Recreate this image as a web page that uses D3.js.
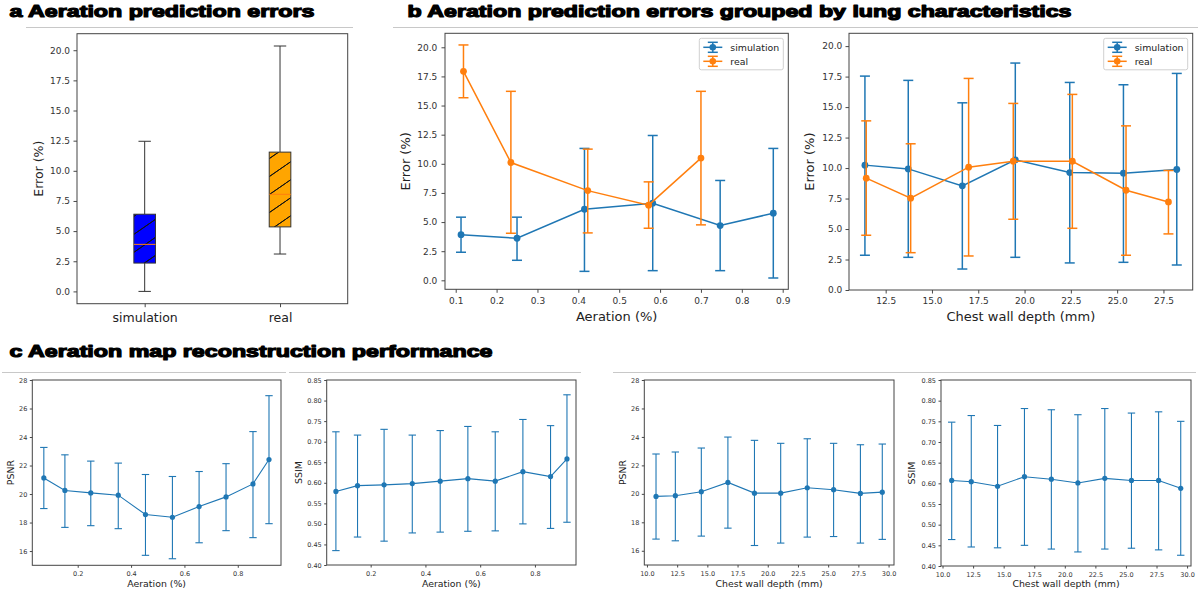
<!DOCTYPE html>
<html><head><meta charset="utf-8">
<script src="https://cdn.jsdelivr.net/npm/d3@7"></script>
<style>
body{margin:0;background:#fff}
svg{display:block}
text{font-family:"DejaVu Sans",sans-serif}
</style>
</head><body>
<svg id="chart" width="1199" height="597"></svg>
<script>
// ---------- DATA ----------
const boxCategories = ["simulation", "real"];
const boxLow    = [0.0, 3.1];
const boxQ1     = [2.35, 5.35];
const boxMedian = [3.9, 8.05];
const boxQ3     = [6.4, 11.55];
const boxHigh   = [12.45, 20.35];

const errorTicks = [0, 2.5, 5, 7.5, 10, 12.5, 15, 17.5, 20];
const aerationTicksB = [0.1, 0.2, 0.3, 0.4, 0.5, 0.6, 0.7, 0.8, 0.9];
const depthTicksB = [12.5, 15, 17.5, 20, 22.5, 25, 27.5];

const simAerX  = [0.113, 0.250, 0.415, 0.582, 0.747, 0.877];
const simAerY  = [3.92, 3.61, 6.10, 6.62, 4.70, 5.76];
const simAerLo = [2.41, 1.72, 0.77, 0.83, 0.83, 0.20];
const simAerHi = [5.42, 5.42, 11.32, 12.43, 8.57, 11.32];
const realAerX  = [0.119, 0.235, 0.423, 0.572, 0.700];
const realAerY  = [17.94, 10.11, 7.70, 6.45, 10.49];
const realAerLo = [15.67, 4.04, 4.07, 4.47, 4.76];
const realAerHi = [20.20, 16.22, 11.26, 8.45, 16.22];

const simDepX  = [11.38, 13.72, 16.64, 19.50, 22.44, 25.34, 28.22];
const simDepY  = [10.24, 9.93, 8.54, 10.67, 9.63, 9.58, 9.88];
const simDepLo = [2.85, 2.68, 1.72, 2.68, 2.22, 2.27, 2.05];
const simDepHi = [17.54, 17.19, 15.35, 18.61, 17.02, 16.83, 17.76];
const realDepX  = [11.45, 13.85, 16.98, 19.39, 22.58, 25.48, 27.77];
const realDepY  = [9.17, 7.53, 10.07, 10.56, 10.56, 8.18, 7.22];
const realDepLo = [4.49, 3.06, 2.79, 5.80, 5.06, 2.85, 4.60];
const realDepHi = [13.87, 11.99, 17.35, 15.30, 16.04, 13.46, 9.80];

const aerBins   = [0.073, 0.152, 0.249, 0.352, 0.454, 0.555, 0.655, 0.756, 0.857, 0.917];
const psnrAer   = [21.13, 20.25, 20.08, 19.92, 18.56, 18.37, 19.12, 19.80, 20.71, 22.42];
const psnrAerLo = [18.98, 17.66, 17.78, 17.57, 15.70, 15.46, 16.58, 17.43, 16.94, 17.92];
const psnrAerHi = [23.27, 22.75, 22.31, 22.17, 21.37, 21.23, 21.58, 22.13, 24.38, 26.90];
const ssimAer   = [0.579, 0.593, 0.595, 0.598, 0.604, 0.610, 0.604, 0.627, 0.615, 0.658];
const ssimAerLo = [0.435, 0.468, 0.458, 0.478, 0.480, 0.482, 0.483, 0.500, 0.489, 0.504];
const ssimAerHi = [0.724, 0.716, 0.730, 0.716, 0.727, 0.737, 0.724, 0.754, 0.739, 0.814];

const depBins   = [10.75, 12.35, 14.5, 16.7, 18.9, 21.07, 23.27, 25.45, 27.67, 29.48];
const psnrDep   = [19.82, 19.87, 20.15, 20.80, 20.05, 20.05, 20.43, 20.29, 20.03, 20.12];
const psnrDepLo = [16.82, 16.70, 17.03, 17.59, 16.37, 16.54, 16.96, 17.00, 16.54, 16.80];
const psnrDepHi = [22.80, 22.94, 23.22, 23.99, 23.76, 23.55, 23.87, 23.55, 23.45, 23.50];
const ssimDep   = [0.607, 0.604, 0.593, 0.616, 0.610, 0.601, 0.612, 0.607, 0.607, 0.588];
const ssimDepLo = [0.464, 0.446, 0.444, 0.450, 0.441, 0.434, 0.441, 0.443, 0.439, 0.426];
const ssimDepHi = [0.748, 0.764, 0.740, 0.781, 0.778, 0.766, 0.781, 0.770, 0.773, 0.750];

const aerTicksC  = [0.2, 0.4, 0.6, 0.8];
const depTicksC  = [10, 12.5, 15, 17.5, 20, 22.5, 25, 27.5, 30];
const psnrTicks  = [16, 18, 20, 22, 24, 26, 28];
const ssimTicks  = [0.40, 0.45, 0.50, 0.55, 0.60, 0.65, 0.70, 0.75, 0.80, 0.85];

const seriesNames = ["simulation", "real"];
const titles = ["a Aeration prediction errors",
  "b Aeration prediction errors grouped by lung characteristics",
  "c Aeration map reconstruction performance"];

// ---------- DRAW ----------
const BLUE = "#1f77b4", ORANGE = "#ff7f0e";
const svg = d3.select("#chart");
const defs = svg.append("defs");
function hatch(id, fill) {
  const p = defs.append("pattern").attr("id", id).attr("patternUnits", "userSpaceOnUse")
    .attr("width", 26).attr("height", 18).attr("x", 0).attr("y", 3);
  p.append("rect").attr("width", 26).attr("height", 18).attr("fill", fill);
  [[0,18,26,0],[-26,18,0,0],[26,18,52,0],[-13,27,13,9],[13,9,39,-9],[-13,9,13,-9],[13,27,39,9]].forEach(s=>{
    p.append("line").attr("x1",s[0]).attr("y1",s[1]).attr("x2",s[2]).attr("y2",s[3])
      .attr("stroke","#111").attr("stroke-width",1);
  });
}
hatch("hBlue", "#0000ff");
hatch("hOrange", "#ffa500");

// titles and header rules
function title(txt, x, y, len) {
  svg.append("text").attr("x", x).attr("y", y).text(txt)
    .style("font-family", "'Liberation Sans', Arial, sans-serif").style("font-weight", "bold")
    .style("font-size", "17px").attr("fill", "#000").attr("stroke", "#000").attr("stroke-width", 1.2)
    .attr("stroke-linejoin", "round")
    .attr("textLength", len).attr("lengthAdjust", "spacingAndGlyphs");
}
title(titles[0], 9.5, 17, 305);
title(titles[1], 407.5, 17, 664);
title(titles[2], 9.5, 357, 483);
function rule(x1, x2, y) {
  svg.append("line").attr("x1", x1).attr("x2", x2).attr("y1", y).attr("y2", y)
    .attr("stroke", "#c8c8c8").attr("stroke-width", 1);
}
rule(26, 353, 27.5); rule(393, 1198, 27.5);
rule(2, 286, 372.5); rule(289, 581, 372.5); rule(613, 1196, 372.5);

function styleAxis(g, fs) {
  g.select(".domain").remove();
  g.selectAll(".tick line").attr("stroke", "#333").attr("stroke-width", 0.9);
  g.selectAll(".tick text").attr("fill", "#333").style("font-size", fs + "px")
    .style("font-family", "'DejaVu Sans', sans-serif");
}

function frame(p) {
  svg.append("rect").attr("x", p.l).attr("y", p.t).attr("width", p.r - p.l).attr("height", p.b - p.t)
    .attr("fill", "none").attr("stroke", "#444").attr("stroke-width", 1);
}

function errPlot(p) {
  const x = d3.scaleLinear().domain(p.xd).range([p.l, p.r]);
  const y = d3.scaleLinear().domain(p.yd).range([p.b, p.t]);
  const gx = svg.append("g").attr("transform", `translate(0,${p.b})`)
    .call(d3.axisBottom(x).tickValues(p.xt).tickFormat(p.xf).tickSize(p.tk).tickPadding(p.xp));
  styleAxis(gx, p.fs);
  const gy = svg.append("g").attr("transform", `translate(${p.l},0)`)
    .call(d3.axisLeft(y).tickValues(p.yt).tickFormat(p.yf).tickSize(p.tk).tickPadding(p.yp));
  styleAxis(gy, p.fs);
  const plot = svg.append("g");
  p.series.forEach(s => {
    const g = plot.append("g");
    s.x.forEach((xv, i) => {
      const cx = x(xv);
      g.append("line").attr("x1", cx).attr("x2", cx).attr("y1", y(s.lo[i])).attr("y2", y(s.hi[i]))
        .attr("stroke", s.color).attr("stroke-width", p.lw);
      [s.lo[i], s.hi[i]].forEach(v => {
        g.append("line").attr("x1", cx - p.cap).attr("x2", cx + p.cap).attr("y1", y(v)).attr("y2", y(v))
          .attr("stroke", s.color).attr("stroke-width", p.lw);
      });
    });
    const pts = s.x.map((xv, i) => [x(xv), y(s.y[i])]);
    g.append("path").attr("d", d3.line()(pts)).attr("fill", "none")
      .attr("stroke", s.color).attr("stroke-width", p.lw);
    g.selectAll("circle.m").data(pts).join("circle").attr("class", "m")
      .attr("cx", d => d[0]).attr("cy", d => d[1]).attr("r", p.mr).attr("fill", s.color);
  });
  frame(p);
  // labels
  svg.append("text").attr("x", (p.l + p.r) / 2).attr("y", p.xlY).attr("text-anchor", "middle")
    .style("font-size", p.lfs + "px").attr("fill", "#222").text(p.xLabel);
  svg.append("text").attr("transform", `translate(${p.ylX},${(p.t + p.b) / 2}) rotate(-90)`)
    .attr("text-anchor", "middle").attr("dominant-baseline", "central")
    .style("font-size", p.lfs + "px").attr("fill", "#222").text(p.yLabel);
  if (p.legend) {
    const bx = p.r - 89, by = p.t + 5, bw = 84, bh = 31.5;
    svg.append("rect").attr("x", bx).attr("y", by).attr("width", bw).attr("height", bh).attr("rx", 2)
      .attr("fill", "#fff").attr("fill-opacity", 0.85).attr("stroke", "#d0d0d0").attr("stroke-width", 1);
    p.series.forEach((s, i) => {
      const ly = by + 9 + i * 14, lx0 = bx + 4, lx1 = bx + 23, lc = (lx0 + lx1) / 2;
      svg.append("line").attr("x1", lx0).attr("x2", lx1).attr("y1", ly).attr("y2", ly)
        .attr("stroke", s.color).attr("stroke-width", 1.5);
      svg.append("line").attr("x1", lc).attr("x2", lc).attr("y1", ly - 5).attr("y2", ly + 5)
        .attr("stroke", s.color).attr("stroke-width", 1.5);
      [ly - 5, ly + 5].forEach(v => svg.append("line").attr("x1", lc - 5).attr("x2", lc + 5)
        .attr("y1", v).attr("y2", v).attr("stroke", s.color).attr("stroke-width", 1.5));
      svg.append("circle").attr("cx", lc).attr("cy", ly).attr("r", 3.3).attr("fill", s.color);
      svg.append("text").attr("x", bx + 31).attr("y", ly).attr("dominant-baseline", "central")
        .style("font-size", "9.4px").attr("fill", "#222").text(s.name);
    });
  }
}

// ---------- Panel a: box plot ----------
(function () {
  const p = {l: 77, r: 347.7, t: 33.7, b: 303.7};
  const x = d3.scalePoint().domain(boxCategories).range([p.l, p.r]).padding(0.5);
  const y = d3.scaleLinear().domain([-1.02, 21.37]).range([p.b, p.t]);
  const gy = svg.append("g").attr("transform", `translate(${p.l},0)`)
    .call(d3.axisLeft(y).tickValues(errorTicks).tickFormat(d3.format(".1f")).tickSize(3.5).tickPadding(3.5));
  styleAxis(gy, 9);
  const gx = svg.append("g").attr("transform", `translate(0,${p.b})`)
    .call(d3.axisBottom(x).tickSize(3.5).tickPadding(6));
  styleAxis(gx, 12.5);
  gx.selectAll(".tick text").attr("fill", "#222");
  const fills = ["url(#hBlue)", "url(#hOrange)"];
  const hw = 10.8, cw = 6.2;
  boxCategories.forEach((c, i) => {
    const cx = x(c);
    const g = svg.append("g");
    g.append("line").attr("x1", cx).attr("x2", cx).attr("y1", y(boxLow[i])).attr("y2", y(boxQ1[i])).attr("stroke", "#333");
    g.append("line").attr("x1", cx).attr("x2", cx).attr("y1", y(boxQ3[i])).attr("y2", y(boxHigh[i])).attr("stroke", "#333");
    [boxLow[i], boxHigh[i]].forEach(v => g.append("line").attr("x1", cx - cw).attr("x2", cx + cw)
      .attr("y1", y(v)).attr("y2", y(v)).attr("stroke", "#333"));
    g.append("rect").attr("x", cx - hw).attr("width", 2 * hw).attr("y", y(boxQ3[i]))
      .attr("height", y(boxQ1[i]) - y(boxQ3[i])).attr("fill", fills[i]).attr("stroke", "#333").attr("stroke-width", 1);
    g.append("line").attr("x1", cx - hw).attr("x2", cx + hw).attr("y1", y(boxMedian[i])).attr("y2", y(boxMedian[i]))
      .attr("stroke", ORANGE).attr("stroke-width", 1);
  });
  frame(p);
  svg.append("text").attr("transform", `translate(38.7,${(p.t + p.b) / 2}) rotate(-90)`)
    .attr("text-anchor", "middle").attr("dominant-baseline", "central")
    .style("font-size", "12.5px").attr("fill", "#222").text("Error (%)");
})();

// ---------- Panel b ----------
const f1 = d3.format(".1f"), f2 = d3.format(".2f"), f0 = d3.format("d");
errPlot({l: 445, r: 788.3, t: 33.3, b: 289.3, xd: [0.0738, 0.9137], yd: [-0.77, 21.2],
  xt: aerationTicksB, yt: errorTicks, xf: f1, yf: f1, tk: 3.5, xp: 4.9, yp: 4.2, fs: 9,
  cap: 5, mr: 3.4, lw: 1.5, lfs: 13, xlY: 320.5, ylX: 405,
  xLabel: "Aeration (%)", yLabel: "Error (%)", legend: true,
  series: [
    {name: seriesNames[0], color: BLUE, x: simAerX, y: simAerY, lo: simAerLo, hi: simAerHi},
    {name: seriesNames[1], color: ORANGE, x: realAerX, y: realAerY, lo: realAerLo, hi: realAerHi}]});
errPlot({l: 849, r: 1192.7, t: 33.3, b: 290, xd: [10.52, 29.08], yd: [0, 21.05],
  xt: depthTicksB, yt: errorTicks, xf: f1, yf: f1, tk: 3.5, xp: 4.2, yp: 3.2, fs: 9,
  cap: 5, mr: 3.4, lw: 1.5, lfs: 13, xlY: 320.5, ylX: 809,
  xLabel: "Chest wall depth (mm)", yLabel: "Error (%)", legend: true,
  series: [
    {name: seriesNames[0], color: BLUE, x: simDepX, y: simDepY, lo: simDepLo, hi: simDepHi},
    {name: seriesNames[1], color: ORANGE, x: realDepX, y: realDepY, lo: realDepLo, hi: realDepHi}]});

// ---------- Panel c ----------
const cCommon = {tk: 2.5, xp: 3.5, yp: 2.5, fs: 6.5, cap: 3.7, mr: 2.6, lw: 1.1, lfs: 9.4, xlY: 587};
errPlot(Object.assign({}, cCommon, {l: 32.3, r: 281, t: 380, b: 565.3, xd: [0.0298, 0.962], yd: [15, 28],
  xt: aerTicksC, yt: psnrTicks, xf: f1, yf: f0, ylX: 10, xLabel: "Aeration (%)", yLabel: "PSNR",
  series: [{name: "", color: BLUE, x: aerBins, y: psnrAer, lo: psnrAerLo, hi: psnrAerHi}]}));
errPlot(Object.assign({}, cCommon, {l: 326.7, r: 576, t: 380, b: 565, xd: [0.0394, 0.95], yd: [0.40, 0.85],
  xt: aerTicksC, yt: ssimTicks, xf: f1, yf: f2, ylX: 298.3, xLabel: "Aeration (%)", yLabel: "SSIM",
  series: [{name: "", color: BLUE, x: aerBins, y: ssimAer, lo: ssimAerLo, hi: ssimAerHi}]}));
errPlot(Object.assign({}, cCommon, {l: 644.3, r: 894, t: 380, b: 565, xd: [9.78, 30.45], yd: [15, 28],
  xt: depTicksC, yt: psnrTicks, xf: f1, yf: f0, ylX: 622.3, xLabel: "Chest wall depth (mm)", yLabel: "PSNR",
  series: [{name: "", color: BLUE, x: depBins, y: psnrDep, lo: psnrDepLo, hi: psnrDepHi}]}));
errPlot(Object.assign({}, cCommon, {l: 941, r: 1191, t: 380, b: 566, xd: [9.875, 30.32], yd: [0.40, 0.85],
  xt: depTicksC, yt: ssimTicks, xf: f1, yf: f2, ylX: 911.7, xLabel: "Chest wall depth (mm)", yLabel: "SSIM",
  series: [{name: "", color: BLUE, x: depBins, y: ssimDep, lo: ssimDepLo, hi: ssimDepHi}]}));
</script>
</body></html>
